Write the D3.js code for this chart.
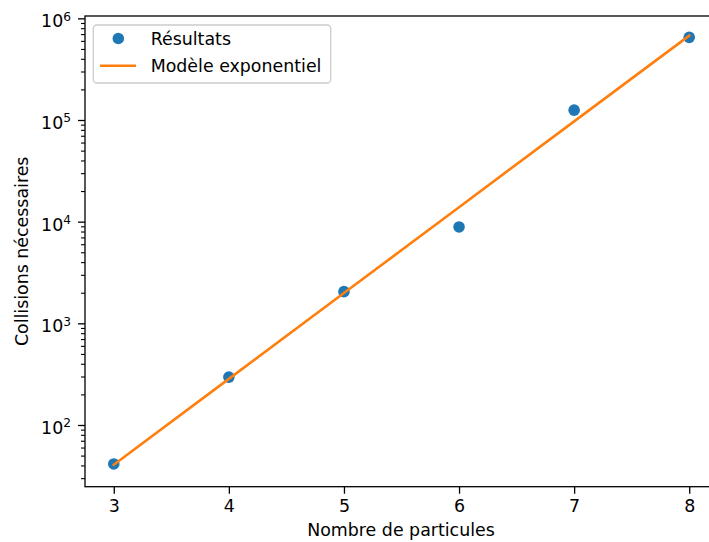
<!DOCTYPE html>
<html>
<head>
<meta charset="utf-8">
<script src="https://cdn.jsdelivr.net/npm/d3@7"></script>
<style>
  html, body { margin: 0; padding: 0; background: #ffffff; }
  svg { display: block; }
  text { font-family: "DejaVu Sans", sans-serif; fill: #000; }
</style>
</head>
<body>
<svg id="chart" width="709" height="542"></svg>
<script>
// ---- data ----
const particles = [3, 4, 5, 6, 7, 8];
const collisions = [41.4, 296, 2050, 8870, 125000, 650000];
const modelValues = [40.7, 284, 1985, 13870, 96900, 676000];
const xTicks = [3, 4, 5, 6, 7, 8];
const yTickExponents = [2, 3, 4, 5, 6];
const seriesNames = ["Résultats", "Modèle exponentiel"];
const xLabel = "Nombre de particules";
const yLabel = "Collisions nécessaires";

(function () {
// ---- layout ----
const pL = 85, pR = 718, pT = 16, pB = 486.7;
const fs = 17.4;
const blue = "#1f77b4", orange = "#ff7f0e";

const svg = d3.select("#chart");

const x = d3.scaleLinear().domain([2.75, 8.25]).range([pL, pR]);
const y = d3.scaleLog().domain([Math.pow(10, 1.393), Math.pow(10, 6.023)]).range([pB, pT]);

// minor ticks
const minorVals = [];
for (let e = 1; e <= 6; e++) {
  for (let m = 2; m <= 9; m++) {
    const v = m * Math.pow(10, e);
    if (v >= y.domain()[0] && v <= y.domain()[1]) minorVals.push(v);
  }
}
const minorAxis = d3.axisLeft(y).tickValues(minorVals).tickSize(4).tickFormat("");
const gMinor = svg.append("g").attr("transform", `translate(${pL},0)`).call(minorAxis);
gMinor.select(".domain").remove();
gMinor.selectAll("line").attr("stroke", "#000").attr("stroke-width", 1.1);

// major y ticks
const yAxis = d3.axisLeft(y).tickValues(yTickExponents.map(e => Math.pow(10, e))).tickSize(7).tickPadding(8).tickFormat("");
const gY = svg.append("g").attr("transform", `translate(${pL},0)`).call(yAxis);
gY.select(".domain").remove();
gY.selectAll("line").attr("stroke", "#000").attr("stroke-width", 1.3);
gY.selectAll(".tick text").each(function(d) {
  const t = d3.select(this);
  t.attr("x", -14).attr("dy", null).attr("y", 8.4)
   .attr("text-anchor", "end")
   .attr("fill", "#000")
   .style("font-size", fs + "px")
   .style("font-family", "DejaVu Sans, sans-serif");
  t.text(null);
  t.append("tspan").text("10");
  t.append("tspan").attr("dy", -6.5).style("font-size", "12.2px").text(Math.round(Math.log10(d)));
});

// x axis
const xAxis = d3.axisBottom(x).tickValues(xTicks).tickSize(7).tickPadding(6).tickFormat(d3.format("d"));
const gX = svg.append("g").attr("transform", `translate(0,${pB})`).call(xAxis);
gX.select(".domain").remove();
gX.selectAll("line").attr("stroke", "#000").attr("stroke-width", 1.3);
gX.selectAll("text").style("font-size", fs + "px").style("font-family", "DejaVu Sans, sans-serif").attr("fill", "#000");

// spines
svg.append("rect")
  .attr("x", pL).attr("y", pT)
  .attr("width", pR - pL).attr("height", pB - pT)
  .attr("fill", "none").attr("stroke", "#000").attr("stroke-width", 1.3);

// points
svg.append("g").selectAll("circle")
  .data(collisions)
  .join("circle")
  .attr("cx", (d, i) => x(particles[i]))
  .attr("cy", d => y(d))
  .attr("r", 5.8)
  .attr("fill", blue);

// model line
const line = d3.line().x((d, i) => x(particles[i])).y(d => y(d));
svg.append("path")
  .datum(modelValues)
  .attr("d", line)
  .attr("fill", "none")
  .attr("stroke", orange)
  .attr("stroke-width", 2.6)
  .attr("stroke-linecap", "square");

// axis labels
svg.append("text")
  .attr("x", (pL + pR) / 2 - 0.5)
  .attr("y", 535.5)
  .attr("text-anchor", "middle")
  .style("font-size", fs + "px")
  .text(xLabel);

svg.append("text")
  .attr("transform", `translate(27.5,${(pT + pB) / 2}) rotate(-90)`)
  .attr("text-anchor", "middle")
  .style("font-size", fs + "px")
  .text(yLabel);

// legend
const lg = svg.append("g");
lg.append("rect")
  .attr("x", 93.3).attr("y", 25)
  .attr("width", 330.7 - 93.3).attr("height", 83 - 25)
  .attr("rx", 3.5).attr("ry", 3.5)
  .attr("fill", "rgba(255,255,255,0.8)")
  .attr("stroke", "#cccccc").attr("stroke-width", 1.3);
lg.append("circle").attr("cx", 118.3).attr("cy", 38.5).attr("r", 5.8).attr("fill", blue);
lg.append("line").attr("x1", 100).attr("x2", 136).attr("y1", 65.7).attr("y2", 65.7)
  .attr("stroke", orange).attr("stroke-width", 2.6);
lg.append("text").attr("x", 150.7).attr("y", 45).style("font-size", fs + "px").text(seriesNames[0]);
lg.append("text").attr("x", 150.7).attr("y", 71.5).style("font-size", fs + "px").text(seriesNames[1]);
})();
</script>
</body>
</html>
